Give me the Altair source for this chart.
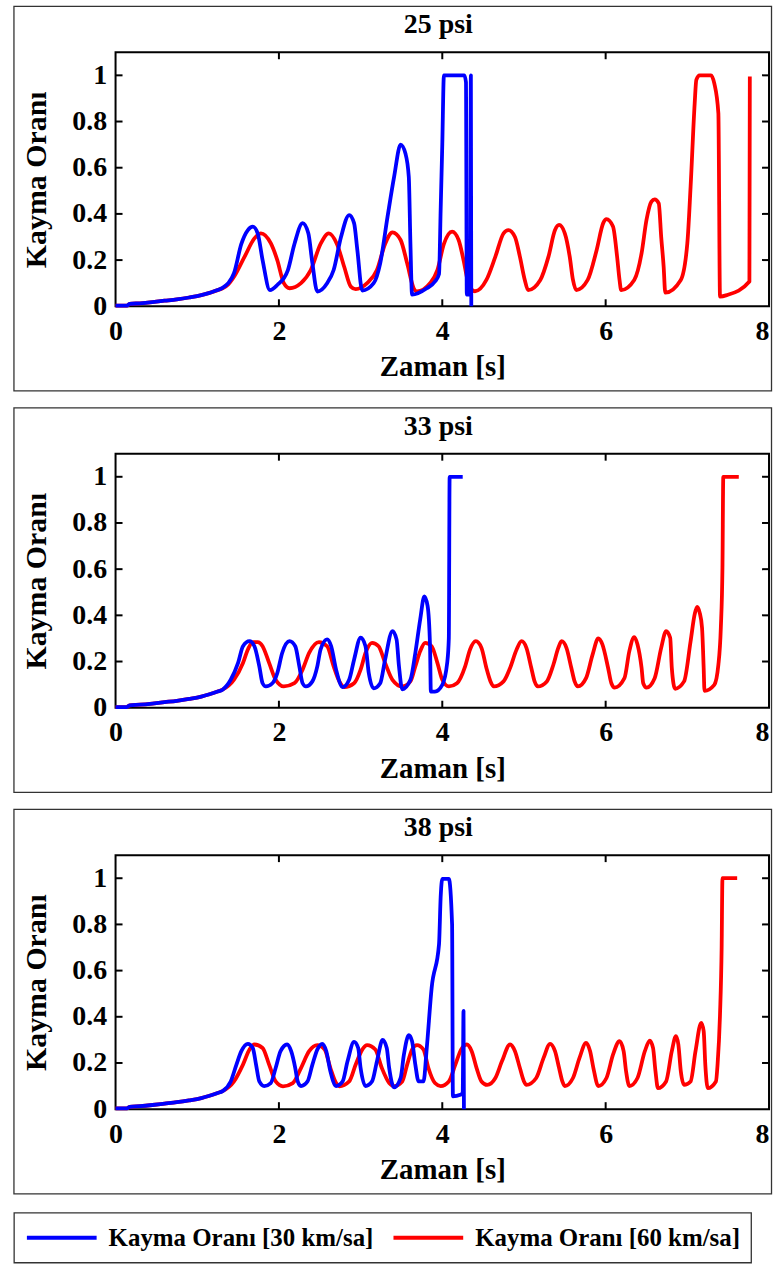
import altair as alt
import pandas as pd

FONT = "Liberation Serif"
W, H = 656, 255

panel_titles = ["25 psi", "33 psi", "38 psi"]
series_names = ["Kayma Oranı [30 km/sa]", "Kayma Oranı [60 km/sa]"]
series_colors = ["#0000ff", "#ff0000"]
x_ticks = [0, 2, 4, 6, 8]
y_ticks = [0, 0.2, 0.4, 0.6, 0.8, 1.0]
inner_x_ticks = [2, 4, 6]
inner_y_ticks = [0.2, 0.4, 0.6, 0.8, 1.0]

# ---- 25 psi ----
p25_blue_t = [0, 0.14, 0.17, 0.3, 0.45, 0.6, 0.75, 0.9, 1.05, 1.15,
              1.25, 1.31, 1.38, 1.45, 1.54, 1.62, 1.68, 1.74, 1.80, 1.89,
              1.98, 2.11, 2.19, 2.29, 2.36, 2.41, 2.47, 2.59, 2.67, 2.76,
              2.86, 2.92, 2.96, 3.02, 3.16, 3.24, 3.33, 3.41, 3.49, 3.55,
              3.59, 3.61, 3.63, 3.81, 3.91, 3.96, 3.98, 4.00, 4.02, 4.27,
              4.29, 4.30, 4.34, 4.35, 4.355]
p25_blue_v = [0.003, 0.003, 0.01, 0.013, 0.018, 0.024, 0.03, 0.038, 0.048, 0.058,
              0.07, 0.08, 0.1, 0.143, 0.27, 0.33, 0.345, 0.316, 0.20, 0.07,
              0.092, 0.157, 0.27, 0.36, 0.316, 0.186, 0.064, 0.10, 0.157, 0.30,
              0.395, 0.36, 0.244, 0.068, 0.10, 0.186, 0.388, 0.56, 0.70, 0.66,
              0.56, 0.27, 0.05, 0.078, 0.107, 0.14, 0.417, 0.70, 1.0, 1.0,
              0.97, 0.05, 0.05, 1.0, 0.0]
p25_red_t = [0, 0.14, 0.17, 0.3, 0.45, 0.6, 0.75, 0.9, 1.05, 1.15,
             1.25, 1.31, 1.38, 1.45, 1.58, 1.70, 1.78, 1.90, 1.98, 2.06,
             2.13, 2.27, 2.39, 2.51, 2.61, 2.71, 2.80, 2.88, 2.94, 3.08,
             3.20, 3.30, 3.39, 3.49, 3.57, 3.65, 3.69, 3.85, 3.94, 4.02,
             4.12, 4.20, 4.26, 4.32, 4.40, 4.54, 4.65, 4.75, 4.81, 4.89,
             4.95, 5.01, 5.05, 5.20, 5.30, 5.38, 5.43, 5.50, 5.56, 5.60,
             5.64, 5.78, 5.89, 5.97, 6.01, 6.09, 6.14, 6.17, 6.19, 6.35,
             6.44, 6.50, 6.56, 6.60, 6.65, 6.68, 6.71, 6.73, 6.92, 7.00,
             7.04, 7.09, 7.11, 7.15, 7.29, 7.33, 7.38, 7.40, 7.49, 7.76,
             7.765]
p25_red_v = [0.003, 0.003, 0.01, 0.013, 0.018, 0.024, 0.03, 0.038, 0.048, 0.058,
             0.07, 0.078, 0.095, 0.128, 0.215, 0.294, 0.316, 0.273, 0.20, 0.10,
             0.078, 0.10, 0.157, 0.27, 0.316, 0.27, 0.17, 0.085, 0.074, 0.10,
             0.157, 0.27, 0.32, 0.287, 0.186, 0.078, 0.064, 0.10, 0.157, 0.27,
             0.323, 0.287, 0.20, 0.10, 0.065, 0.114, 0.215, 0.316, 0.33, 0.30,
             0.215, 0.114, 0.07, 0.114, 0.215, 0.33, 0.352, 0.316, 0.215, 0.114,
             0.07, 0.114, 0.244, 0.36, 0.377, 0.345, 0.215, 0.114, 0.07, 0.114,
             0.23, 0.374, 0.453, 0.463, 0.446, 0.30, 0.172, 0.059, 0.114, 0.273,
             0.518, 0.879, 0.98, 1.0, 1.0, 0.965, 0.835, 0.042, 0.049, 0.107,
             0.995]

# ---- 33 psi ----
p33_blue_t = [0, 0.14, 0.17, 0.3, 0.45, 0.6, 0.75, 0.9, 1.05, 1.15,
              1.25, 1.31, 1.41, 1.50, 1.56, 1.64, 1.70, 1.76, 1.80, 1.84,
              1.92, 1.98, 2.04, 2.13, 2.20, 2.25, 2.29, 2.33, 2.41, 2.47,
              2.51, 2.59, 2.64, 2.70, 2.78, 2.86, 2.92, 3.00, 3.06, 3.10,
              3.16, 3.24, 3.30, 3.39, 3.44, 3.47, 3.51, 3.61, 3.67, 3.73,
              3.78, 3.82, 3.85, 3.86, 3.91, 4.00, 4.06, 4.08, 4.09, 4.25]
p33_blue_v = [0.003, 0.003, 0.01, 0.013, 0.018, 0.024, 0.03, 0.038, 0.048, 0.058,
              0.07, 0.078, 0.121, 0.194, 0.266, 0.288, 0.266, 0.179, 0.106, 0.092,
              0.106, 0.15, 0.237, 0.288, 0.266, 0.179, 0.106, 0.092, 0.114, 0.179,
              0.252, 0.296, 0.266, 0.165, 0.089, 0.121, 0.208, 0.303, 0.266, 0.15,
              0.084, 0.106, 0.208, 0.332, 0.296, 0.179, 0.08, 0.121, 0.237, 0.383,
              0.482, 0.441, 0.266, 0.07, 0.07, 0.099, 0.194, 0.30, 1.0, 1.0]
p33_red_t = [0, 0.14, 0.17, 0.3, 0.45, 0.6, 0.75, 0.9, 1.05, 1.15,
             1.25, 1.31, 1.45, 1.56, 1.62, 1.68, 1.74, 1.80, 1.88, 1.96,
             2.06, 2.19, 2.29, 2.37, 2.49, 2.59, 2.67, 2.74, 2.80, 2.92,
             3.00, 3.06, 3.14, 3.22, 3.30, 3.39, 3.51, 3.61, 3.67, 3.73,
             3.79, 3.87, 3.94, 4.00, 4.08, 4.18, 4.28, 4.34, 4.41, 4.48,
             4.54, 4.59, 4.63, 4.75, 4.83, 4.91, 4.97, 5.03, 5.09, 5.13,
             5.17, 5.28, 5.36, 5.42, 5.46, 5.52, 5.58, 5.62, 5.66, 5.76,
             5.84, 5.91, 5.96, 6.03, 6.07, 6.11, 6.23, 6.29, 6.35, 6.39,
             6.44, 6.46, 6.50, 6.60, 6.68, 6.74, 6.79, 6.81, 6.85, 6.96,
             7.04, 7.09, 7.12, 7.15, 7.18, 7.20, 7.21, 7.33, 7.38, 7.41,
             7.43, 7.44, 7.63]
p33_red_v = [0.003, 0.003, 0.01, 0.013, 0.018, 0.024, 0.03, 0.038, 0.048, 0.058,
             0.07, 0.078, 0.121, 0.194, 0.252, 0.284, 0.284, 0.266, 0.194, 0.121,
             0.092, 0.106, 0.165, 0.237, 0.284, 0.266, 0.179, 0.114, 0.089, 0.106,
             0.165, 0.237, 0.281, 0.266, 0.194, 0.121, 0.092, 0.114, 0.179, 0.245,
             0.281, 0.266, 0.194, 0.121, 0.092, 0.106, 0.179, 0.252, 0.288, 0.259,
             0.172, 0.114, 0.092, 0.114, 0.172, 0.252, 0.288, 0.259, 0.172, 0.114,
             0.092, 0.114, 0.186, 0.259, 0.288, 0.259, 0.172, 0.114, 0.092, 0.128,
             0.23, 0.30, 0.274, 0.172, 0.106, 0.087, 0.128, 0.245, 0.306, 0.274,
             0.172, 0.106, 0.087, 0.128, 0.259, 0.332, 0.303, 0.172, 0.082, 0.114,
             0.288, 0.405, 0.437, 0.413, 0.346, 0.172, 0.073, 0.099, 0.186, 0.346,
             0.608, 1.0, 1.0]

# ---- 38 psi ----
p38_blue_t = [0, 0.14, 0.17, 0.3, 0.45, 0.6, 0.75, 0.9, 1.05, 1.15,
              1.25, 1.31, 1.41, 1.48, 1.54, 1.62, 1.68, 1.72, 1.76, 1.82,
              1.90, 1.96, 2.02, 2.10, 2.15, 2.20, 2.23, 2.27, 2.35, 2.41,
              2.47, 2.53, 2.58, 2.63, 2.70, 2.78, 2.84, 2.92, 2.97, 3.00,
              3.06, 3.14, 3.20, 3.27, 3.32, 3.35, 3.41, 3.49, 3.53, 3.59,
              3.63, 3.67, 3.71, 3.77, 3.81, 3.87, 3.96, 3.98, 4.00, 4.08,
              4.12, 4.13, 4.22, 4.25, 4.26, 4.265]
p38_blue_v = [0.003, 0.003, 0.01, 0.013, 0.018, 0.024, 0.03, 0.038, 0.048, 0.058,
              0.07, 0.078, 0.12, 0.193, 0.251, 0.283, 0.265, 0.193, 0.12, 0.10,
              0.113, 0.178, 0.251, 0.28, 0.251, 0.178, 0.12, 0.10, 0.12, 0.193,
              0.258, 0.283, 0.251, 0.164, 0.10, 0.12, 0.207, 0.291, 0.265, 0.178,
              0.10, 0.12, 0.207, 0.30, 0.265, 0.178, 0.094, 0.135, 0.236, 0.32,
              0.294, 0.193, 0.12, 0.12, 0.265, 0.526, 0.714, 0.917, 0.997, 0.997,
              0.80, 0.055, 0.062, 0.07, 0.425, 0.0]
p38_red_t = [0, 0.14, 0.17, 0.3, 0.45, 0.6, 0.75, 0.9, 1.05, 1.15,
             1.25, 1.31, 1.45, 1.56, 1.64, 1.70, 1.80, 1.88, 1.96, 2.05,
             2.17, 2.27, 2.37, 2.47, 2.56, 2.63, 2.70, 2.74, 2.86, 2.94,
             3.02, 3.08, 3.18, 3.26, 3.35, 3.41, 3.51, 3.57, 3.63, 3.69,
             3.77, 3.83, 3.91, 3.98, 4.08, 4.16, 4.23, 4.30, 4.36, 4.42,
             4.48, 4.55, 4.65, 4.73, 4.83, 4.89, 4.95, 5.00, 5.03, 5.15,
             5.24, 5.32, 5.38, 5.43, 5.47, 5.50, 5.60, 5.68, 5.76, 5.81,
             5.85, 5.91, 6.01, 6.09, 6.17, 6.22, 6.25, 6.29, 6.39, 6.48,
             6.54, 6.58, 6.61, 6.64, 6.74, 6.81, 6.86, 6.89, 6.92, 6.96,
             7.04, 7.10, 7.17, 7.20, 7.22, 7.25, 7.35, 7.37, 7.40, 7.42,
             7.43, 7.61]
p38_red_v = [0.003, 0.003, 0.01, 0.013, 0.018, 0.024, 0.03, 0.038, 0.048, 0.058,
             0.07, 0.078, 0.12, 0.193, 0.258, 0.28, 0.265, 0.193, 0.12, 0.099,
             0.113, 0.178, 0.251, 0.277, 0.258, 0.178, 0.113, 0.099, 0.12, 0.193,
             0.258, 0.277, 0.258, 0.178, 0.113, 0.10, 0.12, 0.193, 0.258, 0.277,
             0.258, 0.178, 0.113, 0.10, 0.12, 0.193, 0.258, 0.28, 0.251, 0.178,
             0.12, 0.105, 0.135, 0.207, 0.28, 0.251, 0.178, 0.12, 0.105, 0.135,
             0.222, 0.283, 0.251, 0.178, 0.12, 0.10, 0.135, 0.222, 0.287, 0.251,
             0.178, 0.10, 0.135, 0.236, 0.294, 0.251, 0.164, 0.10, 0.135, 0.251,
             0.297, 0.265, 0.164, 0.091, 0.12, 0.251, 0.316, 0.28, 0.164, 0.105,
             0.12, 0.251, 0.374, 0.338, 0.193, 0.091, 0.12, 0.193, 0.41, 0.70,
             1.0, 1.0]


def series_df(t, v, name):
    return pd.DataFrame({"t": t, "v": v, "s": name, "i": list(range(len(t)))})


color_scale = alt.Scale(domain=series_names, range=series_colors)
legend = alt.Legend(
    orient="none", legendX=-102, legendY=1165, direction="horizontal", title=None,
    symbolType="stroke", symbolSize=4900, symbolStrokeWidth=4, clipHeight=28,
    labelFont=FONT, labelFontSize=25, labelFontWeight="bold", labelColor="black",
    labelLimit=500, labelOffset=10, columnPadding=18, padding=11,
    strokeColor="#333", fillColor="white",
)

x_label_align = {"condition": {"test": "datum.value == 8", "value": "right"}, "value": "center"}


def panel(title, blue_t, blue_v, red_t, red_v):
    xenc = alt.X("t:Q", scale=alt.Scale(domain=[0, 8], nice=False, zero=False),
                 axis=alt.Axis(values=x_ticks, format="d", title="Zaman [s]",
                               labelAlign=x_label_align))
    yenc = alt.Y("v:Q", scale=alt.Scale(domain=[0, 1.1], nice=False),
                 axis=alt.Axis(values=y_ticks, format="~g", title="Kayma Oranı"))
    frame = alt.Chart(pd.DataFrame({"k": [0]})).mark_rect(
        fillOpacity=0, stroke="#333", strokeWidth=1.3
    ).encode(x=alt.value(-102), x2=alt.value(658.5), y=alt.value(-46), y2=alt.value(340))
    head = alt.Chart(pd.DataFrame({"label": [title]})).mark_text(
        font=FONT, fontSize=28, fontWeight="bold", color="black",
        align="center", baseline="alphabetic"
    ).encode(text="label:N", x=alt.value(W / 2 - 4), y=alt.value(-19))
    red = alt.Chart(series_df(red_t, red_v, series_names[1])).mark_line(
        strokeWidth=3.8, strokeJoin="round", interpolate="monotone"
    ).encode(x=xenc, y=yenc, order="i:Q",
             color=alt.Color("s:N", scale=color_scale, legend=legend))
    blue = alt.Chart(series_df(blue_t, blue_v, series_names[0])).mark_line(
        strokeWidth=3.8, strokeJoin="round", interpolate="monotone"
    ).encode(x=xenc, y=yenc, order="i:Q",
             color=alt.Color("s:N", scale=color_scale, legend=legend))
    xt = pd.DataFrame({"t": inner_x_ticks})
    yt = pd.DataFrame({"v": inner_y_ticks})
    xt_top = alt.Chart(xt).mark_rule(color="black", strokeWidth=2).encode(
        x=xenc, y=alt.value(0), y2=alt.value(7))
    xt_bot = alt.Chart(xt).mark_rule(color="black", strokeWidth=2).encode(
        x=xenc, y=alt.value(H - 7), y2=alt.value(H))
    yt_left = alt.Chart(yt).mark_rule(color="black", strokeWidth=2).encode(
        y=yenc, x=alt.value(0), x2=alt.value(7))
    yt_right = alt.Chart(yt).mark_rule(color="black", strokeWidth=2).encode(
        y=yenc, x=alt.value(W - 7), x2=alt.value(W))
    return alt.layer(frame, head, red, blue, xt_top, xt_bot, yt_left, yt_right).properties(
        width=W, height=H,
    )


chart = alt.vconcat(
    panel(panel_titles[0], p25_blue_t, p25_blue_v, p25_red_t, p25_red_v),
    panel(panel_titles[1], p33_blue_t, p33_blue_v, p33_red_t, p33_red_v),
    panel(panel_titles[2], p38_blue_t, p38_blue_v, p38_red_t, p38_red_v),
    spacing=13,
).properties(
    padding={"left": 12, "top": 2, "right": 0, "bottom": 0}, background="white"
).configure_view(
    stroke="black", strokeWidth=2
).configure_axis(
    labelFont=FONT, labelFontSize=28, labelFontWeight="bold", labelColor="black",
    titleFont=FONT, titleFontWeight="bold", titleColor="black",
    ticks=False, domain=False, grid=False,
).configure_axisX(
    labelPadding=11, titleFontSize=29, titlePadding=8
).configure_axisY(
    labelPadding=9, titleFontSize=30, titlePadding=20
).configure_legend(
    strokeWidth=1.3
)

chart.save("out.html", embed_options={"renderer": "svg", "actions": False})
